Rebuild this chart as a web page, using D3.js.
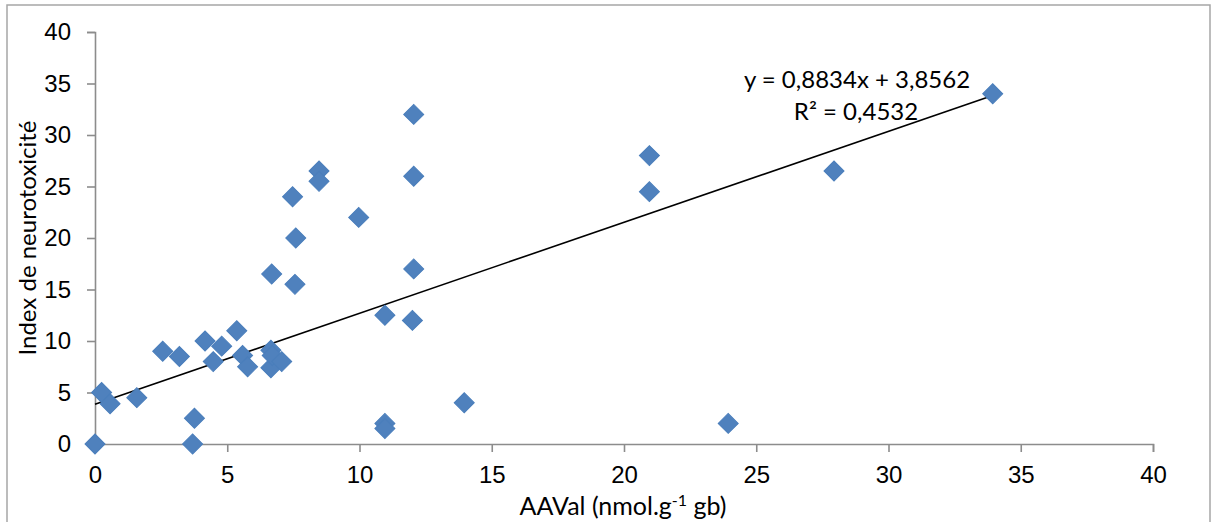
<!DOCTYPE html>
<html>
<head>
    <meta charset="utf-8" />
    <title>Neurotoxicité vs AAVal</title>
    <script src="https://d3js.org/d3.v7.min.js"></script>
    <style>
        body { margin: 0; background: #fff; }
        svg { display: block; font-family: Lato, "Open Sans", sans-serif; }
        .axis path, .axis line { stroke: #8c8c8c; stroke-width: 1.6px; }
        .axis text { font-size: 24px; fill: #000; }
    </style>
</head>
<body>
    <svg width="1218" height="522"></svg>
    <script>
        // data
        var xVals = [0, 0.25, 0.57, 1.58, 2.56, 3.19, 3.69, 3.76, 4.16, 4.47, 4.79, 5.36, 5.58, 5.77,
            6.68, 6.65, 6.65, 6.7, 7.06, 7.47, 7.59, 7.56, 8.47, 8.47, 9.97, 10.96, 10.96, 10.96,
            12.05, 12.05, 12.05, 12.0, 13.96, 20.96, 20.96, 23.94, 27.94, 33.94];
        var yVals = [0, 5, 3.9, 4.5, 9.0, 8.5, 0, 2.5, 10, 8.0, 9.5, 11, 8.6, 7.5,
            16.5, 9.1, 7.4, 8.6, 8.0, 24.0, 20.0, 15.5, 26.5, 25.5, 22.0, 12.5, 2.0, 1.5,
            32.0, 26.0, 17.0, 12.0, 4.0, 28.0, 24.5, 2.0, 26.5, 34.0];
        var xTicks = [0, 5, 10, 15, 20, 25, 30, 35, 40];
        var yTicks = [0, 5, 10, 15, 20, 25, 30, 35, 40];
        var slope = 0.8834, intercept = 3.8562, r2 = 0.4532;

        var svg = d3.select("svg"),
            width = +svg.attr("width"),
            height = +svg.attr("height");
        var margin = { top: 32, right: 65, bottom: 78, left: 95 };

        // outer chart border
        svg.append("rect")
            .attr("x", 7).attr("y", 5)
            .attr("width", 1203).attr("height", 530)
            .attr("fill", "none")
            .attr("stroke", "#a6a6a6")
            .attr("stroke-width", 1.5);

        var x = d3.scaleLinear().domain([0, 40]).range([margin.left, width - margin.right]);
        var y = d3.scaleLinear().domain([0, 40]).range([height - margin.bottom, margin.top]);

        var comma = function (d) { return String(d).replace(".", ","); };

        svg.append("g")
            .attr("class", "axis")
            .attr("transform", "translate(0," + y(0) + ")")
            .call(d3.axisBottom(x).tickValues(xTicks).tickSize(8).tickSizeOuter(8).tickPadding(14).tickFormat(comma));

        svg.append("g")
            .attr("class", "axis")
            .attr("transform", "translate(" + x(0) + ",0)")
            .call(d3.axisLeft(y).tickValues(yTicks).tickSize(8).tickSizeOuter(8).tickPadding(16).tickFormat(comma));

        // trendline
        var ext = d3.extent(xVals);
        svg.append("line")
            .attr("x1", x(ext[0])).attr("y1", y(slope * ext[0] + intercept))
            .attr("x2", x(ext[1])).attr("y2", y(slope * ext[1] + intercept))
            .attr("stroke", "#000")
            .attr("stroke-width", 1.6);

        // markers
        var diamond = d3.symbol().type(d3.symbolSquare).size(200);
        svg.append("g")
            .selectAll("path")
            .data(xVals)
            .enter()
            .append("path")
            .attr("d", diamond)
            .attr("transform", function (d, i) {
                return "translate(" + x(d) + "," + y(yVals[i]) + ") rotate(45)";
            })
            .attr("fill", "#4f81bd")
            .attr("stroke", "#4a7ebb")
            .attr("stroke-width", 1);

        // equation label
        var eq = svg.append("text")
            .attr("text-anchor", "middle")
            .style("font-size", "24px");
        eq.append("tspan").attr("x", 857).attr("y", 88)
            .text("y = " + comma(slope) + "x + " + comma(intercept));
        eq.append("tspan").attr("x", 856).attr("y", 120)
            .text("R² = " + comma(r2));

        // axis titles
        var xt = svg.append("text")
            .attr("x", 623).attr("y", 515)
            .attr("text-anchor", "middle")
            .style("font-size", "25px")
            .text("AAVal (nmol.g");
        xt.append("tspan").attr("dy", -9).style("font-size", "16px").text("-1");
        xt.append("tspan").attr("dy", 9).text(" gb)");

        svg.append("text")
            .attr("transform", "translate(36," + y(20) + ") rotate(-90)")
            .attr("text-anchor", "middle")
            .style("font-size", "24px")
            .text("Index de neurotoxicité");
    </script>
</body>
</html>
